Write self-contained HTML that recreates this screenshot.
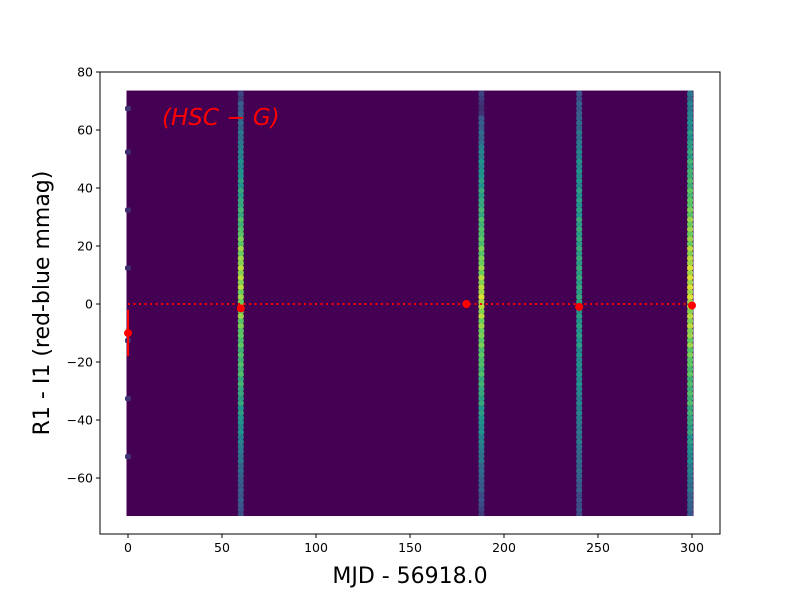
<!DOCTYPE html>
<html><head><meta charset="utf-8"><style>body{margin:0;background:#fff}svg{display:block;font-family:"DejaVu Sans","Liberation Sans",sans-serif}</style></head>
<body>
<svg id="c" width="800" height="600"></svg>
<script>
const stripeX=[0,60,188,240,299];
// profiles from y=72.5 down to -72.5 in 5-unit steps (30 values), 0..1 intensity
const prof0=[0,0.15,0,0,0.15,0,0,0,0.15,0,0,0,0.15,0,0,0,0,0.15,0,0,0,0.15,0,0,0,0.15,0,0,0,0];
const prof60=[0.2,0.3,0.35,0.4,0.45,0.5,0.55,0.6,0.65,0.7,0.8,0.85,0.9,0.9,0.85,0.85,0.8,0.75,0.7,0.7,0.65,0.6,0.55,0.5,0.45,0.4,0.35,0.3,0.3,0.25];
const prof188=[0.2,0.15,0.3,0.35,0.45,0.5,0.55,0.6,0.65,0.7,0.75,0.8,0.85,0.9,0.95,0.9,0.85,0.8,0.75,0.7,0.65,0.6,0.55,0.5,0.45,0.4,0.35,0.3,0.25,0.2];
const prof240=[0.25,0.3,0.35,0.4,0.45,0.5,0.5,0.55,0.55,0.6,0.6,0.6,0.6,0.6,0.6,0.55,0.55,0.55,0.5,0.5,0.5,0.45,0.45,0.4,0.4,0.35,0.35,0.3,0.25,0.25];
const prof299=[0.4,0.45,0.5,0.55,0.6,0.65,0.7,0.75,0.8,0.85,0.85,0.9,0.95,0.95,0.95,0.9,0.9,0.85,0.8,0.75,0.7,0.7,0.65,0.6,0.55,0.5,0.45,0.4,0.35,0.3];
const profiles=[prof0,prof60,prof188,prof240,prof299];
const ptX=[0,60,180,240,300];
const ptY=[-10,-1.5,0,-1,-0.5];
const ptErr=[8,0,0,0,0];
const xTicks=[0,50,100,150,200,250,300];
const yTicks=[-60,-40,-20,0,20,40,60,80];

const L=100,R=720,T=72,B=534,x0=-14.9,x1=314.9,y0=-79.3,y1=80;
const X=v=>L+(v-x0)/(x1-x0)*(R-L), Y=v=>B-(v-y0)/(y1-y0)*(B-T);
const svg=document.getElementById('c'),NS='http://www.w3.org/2000/svg';
function el(t,a,p){const e=document.createElementNS(NS,t);for(const k in a)e.setAttribute(k,a[k]);(p||svg).appendChild(e);return e;}
const vir=[[68,1,84],[59,82,139],[33,145,140],[94,201,98],[253,231,37]];
function col(t){t=Math.max(0,Math.min(1,t))*4;const i=Math.min(3,Math.floor(t)),f=t-i,a=vir[i],b=vir[i+1];return `rgb(${a.map((v,k)=>Math.round(v+(b[k]-v)*f)).join(',')})`;}
const defs=el('defs',{});
const cp=el('clipPath',{id:'hc'},defs);
el('rect',{x:X(-1.8),y:Y(73.6),width:X(302.5)-X(-1.8),height:Y(-73.1)-Y(73.6)},cp);
const bg=el('rect',{x:X(-0.8),y:Y(73.6),width:X(300.8)-X(-0.8),height:Y(-73.1)-Y(73.6),fill:'#440154'});

const g=el('g',{'clip-path':'url(#hc)'});
stripeX.forEach((sx,si)=>{profiles[si].forEach((v,j)=>{if(v<=0)return;const yc=72.5-5*j;
 const n=si===0?1:3;
 for(let k=0;k<n;k++){const yy=si===0?yc+0.8:yc+2.5-k*1.67;const c=el('rect',{x:X(sx)-3,y:Y(yy),width:6,height:Y(yy-1.67)-Y(yy)+0.3,rx:2,fill:col(v*(0.9+0.1*((j+k)%2)))},g);}});});
const fr=el('rect',{x:L,y:T,width:R-L,height:B-T,fill:'none',stroke:'#000','stroke-width':1});

xTicks.forEach(t=>{el('line',{x1:X(t),x2:X(t),y1:B,y2:B+4,stroke:'#000'});const tx=el('text',{x:X(t),y:B+18,'text-anchor':'middle','font-size':12.5});tx.textContent=t;});
yTicks.forEach(t=>{el('line',{x1:L-4,x2:L,y1:Y(t),y2:Y(t),stroke:'#000'});const tx=el('text',{x:L-7,y:Y(t)+4.5,'text-anchor':'end','font-size':12.5});tx.textContent=t<0?'\u2212'+(-t):t;});
const zl=el('line',{x1:X(0),x2:X(300),y1:Y(0),y2:Y(0),stroke:'red','stroke-width':2,'stroke-dasharray':'2,3.5'});

ptX.forEach((px,i)=>{if(ptErr[i]>0){const e=el('line',{x1:X(px),x2:X(px),y1:Y(ptY[i]+ptErr[i]),y2:Y(ptY[i]-ptErr[i]),stroke:'red','stroke-width':2});}
 const c=el('circle',{cx:X(px),cy:Y(ptY[i]),r:4,fill:'red'});});
const an=el('text',{x:162,y:125,fill:'red','font-size':23,'font-style':'italic'});an.textContent='(HSC \u2212 G)';
const xl=el('text',{x:410,y:583,'text-anchor':'middle','font-size':22});xl.textContent='MJD - 56918.0';
const yl=el('text',{x:0,y:0,'text-anchor':'middle','font-size':22,transform:`translate(49,303) rotate(-90)`});yl.textContent='R1 - I1 (red-blue mmag)';
</script>
</body></html>
